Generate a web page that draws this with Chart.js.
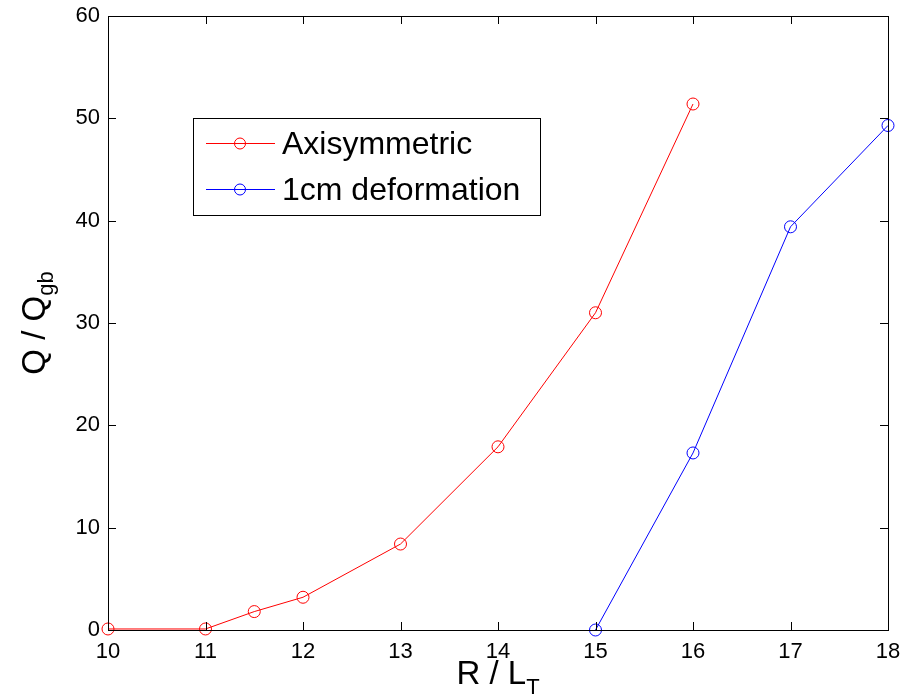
<!DOCTYPE html>
<html>
<head>
<meta charset="utf-8">
<script src="https://cdn.jsdelivr.net/npm/chart.js@4.4.0/dist/chart.umd.min.js"></script>
<style>
  body { margin: 0; background: #fff; }
  #wrap { width: 902px; height: 697px; }
</style>
</head>
<body>
<div id="wrap"><canvas id="myChart" width="902" height="697"></canvas></div>
<script>
// du lieu doc tu hinh
const axisX = [10, 11, 11.5, 12, 13, 14, 15, 16];
const axisY = [0.1, 0.1, 1.8, 3.2, 8.4, 17.9, 31.0, 51.4];
const deformX = [15, 16, 17, 18];
const deformY = [0.0, 17.3, 39.4, 49.3];
const seriesNames = ["Axisymmetric", "1cm deformation"];
const xTicks = [10, 11, 12, 13, 14, 15, 16, 17, 18];
const yTicks = [0, 10, 20, 30, 40, 50, 60];

const fontName = "'Liberation Sans', Arial, Helvetica, sans-serif";

function toPoints(xs, ys) {
    var pts = [];
    for (let i = 0; i < xs.length; i++) {
        pts.push({ x: xs[i], y: ys[i] });
    }
    return pts;
}

// khung, vach chia huong vao trong, tieu de truc, chu thich
const matlabBox = {
    id: 'matlabBox',
    afterDraw(chart) {
        const ctx = chart.ctx;
        const a = chart.chartArea;
        const sx = chart.scales.x;
        const sy = chart.scales.y;
        ctx.save();
        ctx.strokeStyle = '#000';
        ctx.lineWidth = 1;
        ctx.strokeRect(a.left + 0.5, a.top + 0.5, a.right - a.left, a.bottom - a.top);
        ctx.beginPath();
        xTicks.forEach(function(v) {
            const px = Math.round(sx.getPixelForValue(v)) + 0.5;
            ctx.moveTo(px, a.bottom); ctx.lineTo(px, a.bottom - 8);
            ctx.moveTo(px, a.top); ctx.lineTo(px, a.top + 8);
        });
        yTicks.forEach(function(v) {
            const py = Math.round(sy.getPixelForValue(v)) + 0.5;
            ctx.moveTo(a.left, py); ctx.lineTo(a.left + 8, py);
            ctx.moveTo(a.right, py); ctx.lineTo(a.right - 8, py);
        });
        ctx.stroke();

        // tieu de truc x: R / L_T
        ctx.fillStyle = '#000';
        ctx.textBaseline = 'alphabetic';
        const main = 'R / L';
        ctx.font = '22px ' + fontName;
        const subW = ctx.measureText('T').width;
        ctx.font = '33px ' + fontName;
        const mainW = ctx.measureText(main).width;
        const cx = (a.left + a.right) / 2;
        const startX = cx - (mainW + subW) / 2;
        ctx.fillText(main, startX, 684);
        ctx.font = '22px ' + fontName;
        ctx.fillText('T', startX + mainW, 694);

        // tieu de truc y: Q / Q_gb
        ctx.translate(45, (a.top + a.bottom) / 2);
        ctx.rotate(-Math.PI / 2);
        ctx.font = '33px ' + fontName;
        const ym = 'Q / Q';
        const ymW = ctx.measureText(ym).width;
        ctx.font = '22px ' + fontName;
        const ysW = ctx.measureText('gb').width;
        const ys = -(ymW + ysW) / 2;
        ctx.font = '33px ' + fontName;
        ctx.fillText(ym, ys, 0);
        ctx.font = '22px ' + fontName;
        ctx.fillText('gb', ys + ymW, 8);
        ctx.restore();

        // chu thich
        ctx.save();
        const lx = 193.5, ly = 118.5, lw = 347, lh = 97;
        ctx.fillStyle = '#fff';
        ctx.fillRect(lx, ly, lw, lh);
        ctx.strokeStyle = '#000';
        ctx.lineWidth = 1;
        ctx.strokeRect(lx, ly, lw, lh);
        const rows = [
            { name: seriesNames[0], color: '#ff0000', y: 143 },
            { name: seriesNames[1], color: '#0000ff', y: 189 }
        ];
        rows.forEach(function(r) {
            ctx.strokeStyle = r.color;
            ctx.beginPath();
            ctx.moveTo(206, r.y + 0.5); ctx.lineTo(275, r.y + 0.5);
            ctx.stroke();
            ctx.beginPath();
            ctx.arc(240, r.y + 0.5, 5.5, 0, Math.PI * 2);
            ctx.stroke();
            ctx.fillStyle = '#000';
            ctx.font = '32px ' + fontName;
            ctx.textBaseline = 'middle';
            ctx.fillText(r.name, 282, r.y + 2);
        });
        ctx.restore();
    }
};

const ctx = document.getElementById('myChart').getContext('2d');
new Chart(ctx, {
    type: 'line',
    data: {
        datasets: [{
            label: seriesNames[0],
            data: toPoints(axisX, axisY),
            borderColor: '#ff0000',
            borderWidth: 1,
            pointStyle: 'circle',
            pointRadius: 6,
            pointBorderColor: '#ff0000',
            pointBackgroundColor: 'rgba(0,0,0,0)',
            pointBorderWidth: 1,
            tension: 0
        }, {
            label: seriesNames[1],
            data: toPoints(deformX, deformY),
            borderColor: '#0000ff',
            borderWidth: 1,
            pointStyle: 'circle',
            pointRadius: 6,
            pointBorderColor: '#0000ff',
            pointBackgroundColor: 'rgba(0,0,0,0)',
            pointBorderWidth: 1,
            tension: 0
        }]
    },
    options: {
        responsive: false,
        animation: false,
        clip: false,
        layout: { padding: { top: 16, right: 14, left: 0, bottom: 0 } },
        plugins: {
            legend: { display: false },
            tooltip: { enabled: false }
        },
        scales: {
            x: {
                type: 'linear',
                min: 10,
                max: 18,
                afterFit: function(scale) {
                    scale.height = 67;
                    scale.paddingLeft = 0;
                    scale.paddingRight = 0;
                },
                afterBuildTicks: function(scale) {
                    scale.ticks = xTicks.map(function(v) { return { value: v }; });
                },
                grid: { display: false, drawTicks: false },
                border: { display: false },
                ticks: {
                    color: '#000',
                    padding: 9,
                    maxRotation: 0,
                    font: { family: fontName, size: 22 }
                }
            },
            y: {
                type: 'linear',
                min: 0,
                max: 60,
                afterFit: function(scale) {
                    scale.width = 108;
                    scale.paddingTop = 0;
                    scale.paddingBottom = 0;
                },
                afterBuildTicks: function(scale) {
                    scale.ticks = yTicks.map(function(v) { return { value: v }; });
                },
                grid: { display: false, drawTicks: false },
                border: { display: false },
                ticks: {
                    color: '#000',
                    padding: 8,
                    font: { family: fontName, size: 22 }
                }
            }
        }
    },
    plugins: [matlabBox]
});
</script>
</body>
</html>
